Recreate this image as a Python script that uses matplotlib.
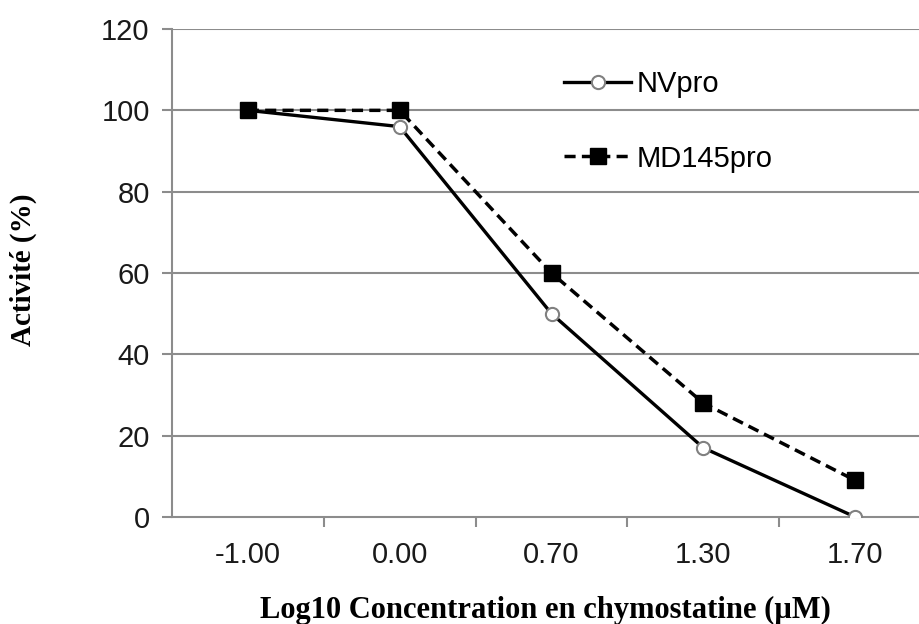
"""Activité vs log10 concentration en chymostatine"""
import matplotlib.pyplot as plt

CATEGORIES = ['-1.00', '0.00', '0.70', '1.30', '1.70']
NVPRO = [100, 96, 50, 17, 0]
MD145PRO = [100, 100, 60, 28, 9]
Y_TICKS = [0, 20, 40, 60, 80, 100, 120]

GRID = '#8c8c8c'

fig = plt.figure(figsize=(9.19, 6.24), dpi=100)
ax = fig.add_axes([0.187, 0.1715, 0.813, 0.782])

x = list(range(len(CATEGORIES)))
ax.plot(x, NVPRO, color='black', lw=2.4, marker='o', markersize=9.5,
        markerfacecolor='white', markeredgecolor='#808080', markeredgewidth=1.5,
        label='NVpro', zorder=3)
ax.plot(x, MD145PRO, color='black', lw=2.5, ls=(0, (3.2, 1.8)), marker='s',
        markersize=11, markerfacecolor='black', markeredgecolor='black',
        label='MD145pro', zorder=3)

ax.set_xlim(-0.5, 4.42)
ax.set_ylim(0, 120)
ax.set_yticks(Y_TICKS)
ax.set_xticks(x)
ax.set_xticklabels(CATEGORIES)
ax.set_xticks([i + 0.5 for i in range(len(CATEGORIES) - 1)], minor=True)

for yv in Y_TICKS[1:]:
    ax.axhline(yv, color=GRID, lw=1.5, zorder=1)

for side in ['top', 'right']:
    ax.spines[side].set_visible(False)
for side in ['left', 'bottom']:
    ax.spines[side].set_color(GRID)
    ax.spines[side].set_linewidth(1.5)

ax.tick_params(axis='y', which='major', length=7, width=1.5, color=GRID,
               labelsize=21, pad=9)
ax.tick_params(axis='x', which='major', length=0, labelsize=21, pad=17)
ax.tick_params(axis='x', which='minor', length=7, width=1.5, color=GRID)
for lbl in ax.get_xticklabels() + ax.get_yticklabels():
    lbl.set_family('Liberation Sans')
    lbl.set_color('#1a1a1a')

ax.set_xlabel('Log10 Concentration en chymostatine (µM)', family='Liberation Serif',
              fontweight='bold', fontsize=22, labelpad=20)
fig.text(0.025, 0.567, 'Activité (%)', rotation=90, family='Liberation Serif',
         fontweight='bold', fontsize=21, ha='center', va='center')

leg = ax.legend(loc='upper left', bbox_to_anchor=(0.49, 0.97), frameon=False,
                prop={'family': 'Liberation Sans', 'size': 21},
                labelspacing=1.6, handlelength=2.3, handletextpad=0.2)

plt.savefig('out.png', dpi=100)
